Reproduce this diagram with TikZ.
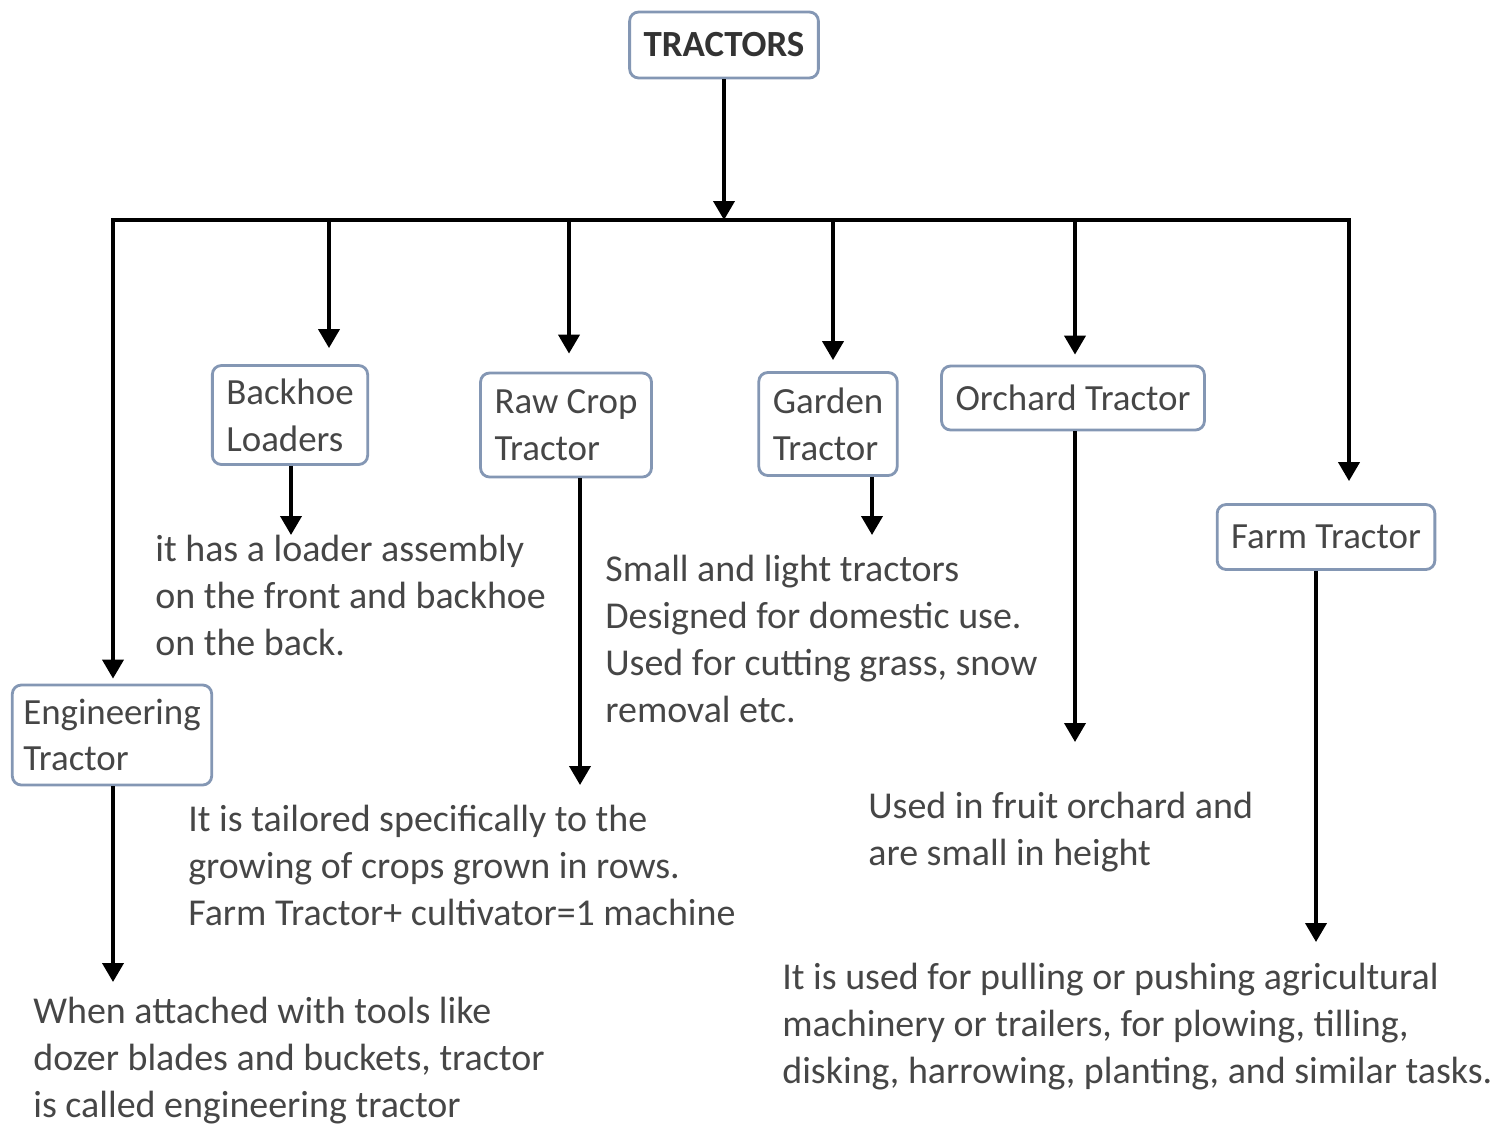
\documentclass[tikz,border=0pt]{standalone}
\usepackage{fontspec}
\setmainfont{Carlito}
\usepackage{tikz}
\usetikzlibrary{arrows.meta,positioning,calc}

\definecolor{boxline}{RGB}{132,151,180}
\definecolor{txtgray}{RGB}{70,70,70}

\begin{document}
\begin{tikzpicture}[
    x=0.02cm, y=-0.02cm,
    font=\fontsize{21}{26.6}\selectfont,
    tbox/.style={
        draw=boxline,
        line width=1.6pt,
        rounded corners=0.18cm,
        fill=white,
        text=txtgray,
        align=left,
        inner xsep=0.28cm,
        inner ysep=0.1cm
    },
    info/.style={
        anchor=base west,
        align=left,
        inner sep=0pt,
        text=txtgray,
        font=\fontsize{21.6}{26.6}\selectfont
    },
    arr/.style={-{Triangle[length=0.38cm,width=0.42cm]}, line width=2.2pt},
    bus/.style={line width=2.2pt}
]
    \useasboundingbox (0,0) rectangle (1496,1129);

    %% Root
    \node[tbox, minimum height=1.32cm, font=\fontsize{21}{26.6}\selectfont\bfseries, text=black!80] (tractors) at (724,45) {TRACTORS};

    %% Types of tractors
    \node[tbox, minimum height=1.98cm] (backhoe) at (290,415) {Backhoe\\Loaders};
    \node[tbox, minimum height=2.08cm] (rawcrop) at (566,425) {Raw Crop\\Tractor};
    \node[tbox, minimum height=2.06cm] (garden) at (828,424) {Garden\\Tractor};
    \node[tbox, minimum height=1.28cm] (orchard) at (1073,398) {Orchard Tractor};
    \node[tbox, minimum height=1.3cm] (farm) at (1326,537) {Farm Tractor};
    \node[tbox, minimum height=2.0cm, inner xsep=0.22cm] (engg) at (112,735) {Engineering\\Tractor};

    %% Descriptions (anchored at the baseline of the last line)
    \node[info] (bkinfo) at (155,655) {it has a loader assembly\\on the front and backhoe\\on the back.};
    \node[info] (rcinfo) at (188,925) {It is tailored specifically to the\\growing of crops grown in rows.\\Farm Tractor+ cultivator=1 machine};
    \node[info] (gdinfo) at (605,722) {Small and light tractors\\Designed for domestic use.\\Used for cutting grass, snow\\removal etc.};
    \node[info] (orinfo) at (868,865) {Used in fruit orchard and\\are small in height};
    \node[info] (fminfo) at (782,1083) {It is used for pulling or pushing agricultural\\machinery or trailers, for plowing, tilling,\\disking, harrowing, planting, and similar tasks.};
    \node[info] (eninfo) at (33,1117) {When attached with tools like\\dozer blades and buckets, tractor\\is called engineering tractor};

    %% Bus line
    \coordinate (hub) at (724,220);
    \coordinate (busL) at (113,220);
    \coordinate (busR) at (1349,220);
    \coordinate (dBk) at (329,220);
    \coordinate (dRc) at (569,220);
    \coordinate (dGd) at (833,220);
    \coordinate (dOr) at (1075,220);

    \draw[arr] (tractors.south) -- (hub);
    \draw[bus, line cap=rect] (busL) -- (busR);

    %% Drops
    \draw[arr, shorten >=0.1cm] (busL) -- (busL |- engg.north);
    \draw[arr, shorten >=0.32cm] (dBk) -- (dBk |- backhoe.north);
    \draw[arr, shorten >=0.36cm] (dRc) -- (dRc |- rawcrop.north);
    \draw[arr, shorten >=0.22cm] (dGd) -- (dGd |- garden.north);
    \draw[arr, shorten >=0.2cm] (dOr) -- (dOr |- orchard.north);
    \draw[arr, shorten >=0.44cm] (busR) -- (busR |- farm.north);

    %% Arrows to descriptions
    \coordinate (bkTip) at (291,535);
    \coordinate (rcTip) at (580,785);
    \coordinate (gdTip) at (872,535);
    \coordinate (orTip) at (1075,742);
    \coordinate (fmTip) at (1316,942);
    \coordinate (enTip) at (113,982);

    \draw[arr] (backhoe.south -| bkTip) -- (bkTip);
    \draw[arr] (rawcrop.south -| rcTip) -- (rcTip);
    \draw[arr] (garden.south -| gdTip) -- (gdTip);
    \draw[arr] (orchard.south -| orTip) -- (orTip);
    \draw[arr] (farm.south -| fmTip) -- (fmTip);
    \draw[arr] (engg.south -| enTip) -- (enTip);
\end{tikzpicture}
\end{document}
